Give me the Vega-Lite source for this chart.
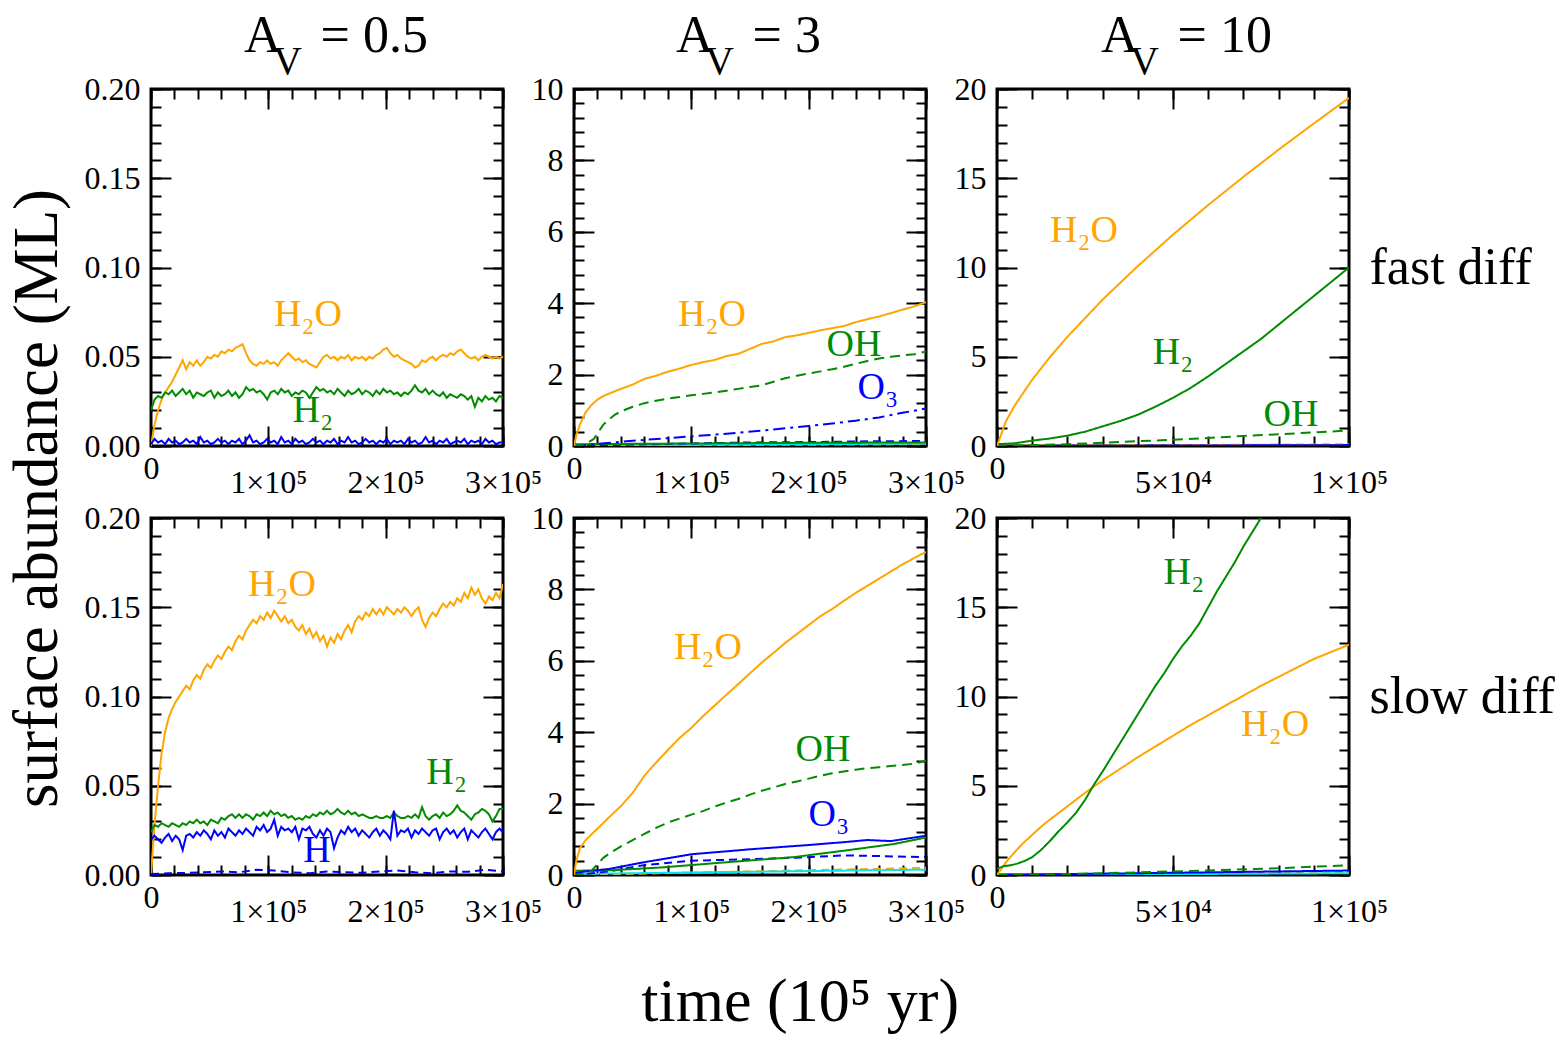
{
"$schema": "https://vega.github.io/schema/vega-lite/v6.json",
"padding": {"left": 6, "top": 8, "right": 10, "bottom": 10},
"config": {
  "font": "Liberation Serif",
  "view": {"stroke": "black", "strokeWidth": 3},
  "axis": {"grid": false, "domain": false, "labelFont": "Liberation Serif", "labelFontSize": 32, "labelColor": "black", "tickColor": "black", "tickWidth": 2, "labelFlush": false, "labelOverlap": false, "labelBound": false, "titleFont": "Liberation Serif", "titleColor": "black", "titleFontWeight": "normal"},
  "title": {"font": "Liberation Serif", "fontWeight": "normal", "color": "black", "subtitleFont": "Liberation Serif", "subtitleColor": "black"},
  "text": {"font": "Liberation Serif"}
},
"datasets": {
"tl": [
{"t":0,"v":0,"s":"H2O"},{"t":3000,"v":0.012,"s":"H2O"},{"t":6000,"v":0.02,"s":"H2O"},{"t":9000,"v":0.026,"s":"H2O"},{"t":12000,"v":0.03,"s":"H2O"},{"t":15000,"v":0.033,"s":"H2O"},{"t":18000,"v":0.036,"s":"H2O"},{"t":21000,"v":0.04,"s":"H2O"},{"t":24000,"v":0.044,"s":"H2O"},{"t":27000,"v":0.048,"s":"H2O"},{"t":30000,"v":0.043,"s":"H2O"},{"t":33000,"v":0.047,"s":"H2O"},{"t":36000,"v":0.045,"s":"H2O"},{"t":39000,"v":0.048,"s":"H2O"},{"t":42000,"v":0.045,"s":"H2O"},{"t":45000,"v":0.047,"s":"H2O"},{"t":48000,"v":0.05,"s":"H2O"},{"t":51000,"v":0.049,"s":"H2O"},{"t":54000,"v":0.051,"s":"H2O"},{"t":57000,"v":0.05,"s":"H2O"},{"t":60000,"v":0.053,"s":"H2O"},{"t":63000,"v":0.052,"s":"H2O"},{"t":66000,"v":0.054,"s":"H2O"},{"t":69000,"v":0.053,"s":"H2O"},{"t":72000,"v":0.055,"s":"H2O"},{"t":75000,"v":0.056,"s":"H2O"},{"t":78000,"v":0.057,"s":"H2O"},{"t":81000,"v":0.052,"s":"H2O"},{"t":84000,"v":0.048,"s":"H2O"},{"t":87000,"v":0.046,"s":"H2O"},{"t":90000,"v":0.045,"s":"H2O"},{"t":93000,"v":0.047,"s":"H2O"},{"t":96000,"v":0.046,"s":"H2O"},{"t":99000,"v":0.048,"s":"H2O"},{"t":102000,"v":0.046,"s":"H2O"},{"t":105000,"v":0.047,"s":"H2O"},{"t":108000,"v":0.045,"s":"H2O"},{"t":111000,"v":0.048,"s":"H2O"},{"t":114000,"v":0.05,"s":"H2O"},{"t":117000,"v":0.052,"s":"H2O"},{"t":120000,"v":0.05,"s":"H2O"},{"t":123000,"v":0.048,"s":"H2O"},{"t":126000,"v":0.049,"s":"H2O"},{"t":129000,"v":0.047,"s":"H2O"},{"t":132000,"v":0.048,"s":"H2O"},{"t":135000,"v":0.046,"s":"H2O"},{"t":138000,"v":0.045,"s":"H2O"},{"t":141000,"v":0.044,"s":"H2O"},{"t":144000,"v":0.047,"s":"H2O"},{"t":147000,"v":0.05,"s":"H2O"},{"t":150000,"v":0.051,"s":"H2O"},{"t":153000,"v":0.049,"s":"H2O"},{"t":156000,"v":0.05,"s":"H2O"},{"t":159000,"v":0.048,"s":"H2O"},{"t":162000,"v":0.05,"s":"H2O"},{"t":165000,"v":0.049,"s":"H2O"},{"t":168000,"v":0.051,"s":"H2O"},{"t":171000,"v":0.048,"s":"H2O"},{"t":174000,"v":0.05,"s":"H2O"},{"t":177000,"v":0.049,"s":"H2O"},{"t":180000,"v":0.05,"s":"H2O"},{"t":183000,"v":0.048,"s":"H2O"},{"t":186000,"v":0.05,"s":"H2O"},{"t":189000,"v":0.049,"s":"H2O"},{"t":192000,"v":0.051,"s":"H2O"},{"t":195000,"v":0.052,"s":"H2O"},{"t":198000,"v":0.054,"s":"H2O"},{"t":201000,"v":0.055,"s":"H2O"},{"t":204000,"v":0.052,"s":"H2O"},{"t":207000,"v":0.05,"s":"H2O"},{"t":210000,"v":0.051,"s":"H2O"},{"t":213000,"v":0.049,"s":"H2O"},{"t":216000,"v":0.048,"s":"H2O"},{"t":219000,"v":0.047,"s":"H2O"},{"t":222000,"v":0.046,"s":"H2O"},{"t":225000,"v":0.044,"s":"H2O"},{"t":228000,"v":0.045,"s":"H2O"},{"t":231000,"v":0.048,"s":"H2O"},{"t":234000,"v":0.047,"s":"H2O"},{"t":237000,"v":0.049,"s":"H2O"},{"t":240000,"v":0.05,"s":"H2O"},{"t":243000,"v":0.048,"s":"H2O"},{"t":246000,"v":0.05,"s":"H2O"},{"t":249000,"v":0.051,"s":"H2O"},{"t":252000,"v":0.05,"s":"H2O"},{"t":255000,"v":0.052,"s":"H2O"},{"t":258000,"v":0.051,"s":"H2O"},{"t":261000,"v":0.053,"s":"H2O"},{"t":264000,"v":0.054,"s":"H2O"},{"t":267000,"v":0.052,"s":"H2O"},{"t":270000,"v":0.05,"s":"H2O"},{"t":273000,"v":0.049,"s":"H2O"},{"t":276000,"v":0.05,"s":"H2O"},{"t":279000,"v":0.048,"s":"H2O"},{"t":282000,"v":0.05,"s":"H2O"},{"t":285000,"v":0.051,"s":"H2O"},{"t":288000,"v":0.05,"s":"H2O"},{"t":291000,"v":0.049,"s":"H2O"},{"t":294000,"v":0.05,"s":"H2O"},{"t":297000,"v":0.049,"s":"H2O"},{"t":300000,"v":0.05,"s":"H2O"},
{"t":0,"v":0.02,"s":"H2"},{"t":3000,"v":0.026,"s":"H2"},{"t":6000,"v":0.028,"s":"H2"},{"t":9000,"v":0.027,"s":"H2"},{"t":12000,"v":0.03,"s":"H2"},{"t":15000,"v":0.029,"s":"H2"},{"t":18000,"v":0.031,"s":"H2"},{"t":21000,"v":0.028,"s":"H2"},{"t":24000,"v":0.03,"s":"H2"},{"t":27000,"v":0.032,"s":"H2"},{"t":30000,"v":0.029,"s":"H2"},{"t":33000,"v":0.031,"s":"H2"},{"t":36000,"v":0.027,"s":"H2"},{"t":39000,"v":0.03,"s":"H2"},{"t":42000,"v":0.029,"s":"H2"},{"t":45000,"v":0.028,"s":"H2"},{"t":48000,"v":0.03,"s":"H2"},{"t":51000,"v":0.031,"s":"H2"},{"t":54000,"v":0.027,"s":"H2"},{"t":57000,"v":0.03,"s":"H2"},{"t":60000,"v":0.028,"s":"H2"},{"t":63000,"v":0.029,"s":"H2"},{"t":66000,"v":0.031,"s":"H2"},{"t":69000,"v":0.028,"s":"H2"},{"t":72000,"v":0.03,"s":"H2"},{"t":75000,"v":0.027,"s":"H2"},{"t":78000,"v":0.029,"s":"H2"},{"t":81000,"v":0.033,"s":"H2"},{"t":84000,"v":0.031,"s":"H2"},{"t":87000,"v":0.032,"s":"H2"},{"t":90000,"v":0.03,"s":"H2"},{"t":93000,"v":0.031,"s":"H2"},{"t":96000,"v":0.029,"s":"H2"},{"t":99000,"v":0.026,"s":"H2"},{"t":102000,"v":0.03,"s":"H2"},{"t":105000,"v":0.031,"s":"H2"},{"t":108000,"v":0.029,"s":"H2"},{"t":111000,"v":0.032,"s":"H2"},{"t":114000,"v":0.03,"s":"H2"},{"t":117000,"v":0.031,"s":"H2"},{"t":120000,"v":0.028,"s":"H2"},{"t":123000,"v":0.03,"s":"H2"},{"t":126000,"v":0.029,"s":"H2"},{"t":129000,"v":0.031,"s":"H2"},{"t":132000,"v":0.03,"s":"H2"},{"t":135000,"v":0.027,"s":"H2"},{"t":138000,"v":0.03,"s":"H2"},{"t":141000,"v":0.033,"s":"H2"},{"t":144000,"v":0.031,"s":"H2"},{"t":147000,"v":0.032,"s":"H2"},{"t":150000,"v":0.03,"s":"H2"},{"t":153000,"v":0.031,"s":"H2"},{"t":156000,"v":0.029,"s":"H2"},{"t":159000,"v":0.032,"s":"H2"},{"t":162000,"v":0.03,"s":"H2"},{"t":165000,"v":0.028,"s":"H2"},{"t":168000,"v":0.031,"s":"H2"},{"t":171000,"v":0.029,"s":"H2"},{"t":174000,"v":0.03,"s":"H2"},{"t":177000,"v":0.032,"s":"H2"},{"t":180000,"v":0.029,"s":"H2"},{"t":183000,"v":0.031,"s":"H2"},{"t":186000,"v":0.03,"s":"H2"},{"t":189000,"v":0.028,"s":"H2"},{"t":192000,"v":0.031,"s":"H2"},{"t":195000,"v":0.029,"s":"H2"},{"t":198000,"v":0.032,"s":"H2"},{"t":201000,"v":0.03,"s":"H2"},{"t":204000,"v":0.031,"s":"H2"},{"t":207000,"v":0.029,"s":"H2"},{"t":210000,"v":0.03,"s":"H2"},{"t":213000,"v":0.028,"s":"H2"},{"t":216000,"v":0.03,"s":"H2"},{"t":219000,"v":0.029,"s":"H2"},{"t":222000,"v":0.031,"s":"H2"},{"t":225000,"v":0.034,"s":"H2"},{"t":228000,"v":0.031,"s":"H2"},{"t":231000,"v":0.03,"s":"H2"},{"t":234000,"v":0.032,"s":"H2"},{"t":237000,"v":0.029,"s":"H2"},{"t":240000,"v":0.031,"s":"H2"},{"t":243000,"v":0.029,"s":"H2"},{"t":246000,"v":0.028,"s":"H2"},{"t":249000,"v":0.03,"s":"H2"},{"t":252000,"v":0.027,"s":"H2"},{"t":255000,"v":0.029,"s":"H2"},{"t":258000,"v":0.028,"s":"H2"},{"t":261000,"v":0.027,"s":"H2"},{"t":264000,"v":0.029,"s":"H2"},{"t":267000,"v":0.028,"s":"H2"},{"t":270000,"v":0.026,"s":"H2"},{"t":273000,"v":0.028,"s":"H2"},{"t":276000,"v":0.022,"s":"H2"},{"t":279000,"v":0.027,"s":"H2"},{"t":282000,"v":0.025,"s":"H2"},{"t":285000,"v":0.028,"s":"H2"},{"t":288000,"v":0.026,"s":"H2"},{"t":291000,"v":0.027,"s":"H2"},{"t":294000,"v":0.025,"s":"H2"},{"t":297000,"v":0.028,"s":"H2"},{"t":300000,"v":0.027,"s":"H2"},
{"t":0,"v":0.001,"s":"H"},{"t":3000,"v":0.004,"s":"H"},{"t":6000,"v":0.002,"s":"H"},{"t":9000,"v":0.003,"s":"H"},{"t":12000,"v":0.001,"s":"H"},{"t":15000,"v":0.004,"s":"H"},{"t":18000,"v":0.002,"s":"H"},{"t":21000,"v":0.003,"s":"H"},{"t":24000,"v":0.001,"s":"H"},{"t":27000,"v":0.002,"s":"H"},{"t":30000,"v":0.004,"s":"H"},{"t":33000,"v":0.002,"s":"H"},{"t":36000,"v":0.003,"s":"H"},{"t":39000,"v":0.001,"s":"H"},{"t":42000,"v":0.005,"s":"H"},{"t":45000,"v":0.002,"s":"H"},{"t":48000,"v":0.003,"s":"H"},{"t":51000,"v":0.001,"s":"H"},{"t":54000,"v":0.002,"s":"H"},{"t":57000,"v":0.004,"s":"H"},{"t":60000,"v":0.002,"s":"H"},{"t":63000,"v":0.003,"s":"H"},{"t":66000,"v":0.001,"s":"H"},{"t":69000,"v":0.003,"s":"H"},{"t":72000,"v":0.002,"s":"H"},{"t":75000,"v":0.004,"s":"H"},{"t":78000,"v":0.001,"s":"H"},{"t":81000,"v":0.003,"s":"H"},{"t":84000,"v":0.006,"s":"H"},{"t":87000,"v":0.002,"s":"H"},{"t":90000,"v":0.003,"s":"H"},{"t":93000,"v":0.001,"s":"H"},{"t":96000,"v":0.002,"s":"H"},{"t":99000,"v":0.004,"s":"H"},{"t":102000,"v":0.002,"s":"H"},{"t":105000,"v":0.003,"s":"H"},{"t":108000,"v":0.001,"s":"H"},{"t":111000,"v":0.005,"s":"H"},{"t":114000,"v":0.002,"s":"H"},{"t":117000,"v":0.003,"s":"H"},{"t":120000,"v":0.001,"s":"H"},{"t":123000,"v":0.004,"s":"H"},{"t":126000,"v":0.002,"s":"H"},{"t":129000,"v":0.003,"s":"H"},{"t":132000,"v":0.001,"s":"H"},{"t":135000,"v":0.002,"s":"H"},{"t":138000,"v":0.004,"s":"H"},{"t":141000,"v":0.002,"s":"H"},{"t":144000,"v":0.003,"s":"H"},{"t":147000,"v":0.001,"s":"H"},{"t":150000,"v":0.003,"s":"H"},{"t":153000,"v":0.002,"s":"H"},{"t":156000,"v":0.004,"s":"H"},{"t":159000,"v":0.001,"s":"H"},{"t":162000,"v":0.003,"s":"H"},{"t":165000,"v":0.002,"s":"H"},{"t":168000,"v":0.005,"s":"H"},{"t":171000,"v":0.002,"s":"H"},{"t":174000,"v":0.003,"s":"H"},{"t":177000,"v":0.001,"s":"H"},{"t":180000,"v":0.002,"s":"H"},{"t":183000,"v":0.004,"s":"H"},{"t":186000,"v":0.002,"s":"H"},{"t":189000,"v":0.003,"s":"H"},{"t":192000,"v":0.001,"s":"H"},{"t":195000,"v":0.003,"s":"H"},{"t":198000,"v":0.002,"s":"H"},{"t":201000,"v":0.004,"s":"H"},{"t":204000,"v":0.001,"s":"H"},{"t":207000,"v":0.003,"s":"H"},{"t":210000,"v":0.002,"s":"H"},{"t":213000,"v":0.003,"s":"H"},{"t":216000,"v":0.001,"s":"H"},{"t":219000,"v":0.004,"s":"H"},{"t":222000,"v":0.002,"s":"H"},{"t":225000,"v":0.003,"s":"H"},{"t":228000,"v":0.001,"s":"H"},{"t":231000,"v":0.002,"s":"H"},{"t":234000,"v":0.005,"s":"H"},{"t":237000,"v":0.002,"s":"H"},{"t":240000,"v":0.003,"s":"H"},{"t":243000,"v":0.001,"s":"H"},{"t":246000,"v":0.003,"s":"H"},{"t":249000,"v":0.002,"s":"H"},{"t":252000,"v":0.004,"s":"H"},{"t":255000,"v":0.001,"s":"H"},{"t":258000,"v":0.002,"s":"H"},{"t":261000,"v":0.003,"s":"H"},{"t":264000,"v":0.002,"s":"H"},{"t":267000,"v":0.004,"s":"H"},{"t":270000,"v":0.001,"s":"H"},{"t":273000,"v":0.003,"s":"H"},{"t":276000,"v":0.002,"s":"H"},{"t":279000,"v":0.003,"s":"H"},{"t":282000,"v":0.001,"s":"H"},{"t":285000,"v":0.004,"s":"H"},{"t":288000,"v":0.002,"s":"H"},{"t":291000,"v":0.003,"s":"H"},{"t":294000,"v":0.001,"s":"H"},{"t":297000,"v":0.002,"s":"H"},{"t":300000,"v":0.002,"s":"H"}
],
"bl": [
{"t":0,"v":0,"s":"H2O"},{"t":3000,"v":0.028,"s":"H2O"},{"t":6000,"v":0.05,"s":"H2O"},{"t":9000,"v":0.068,"s":"H2O"},{"t":12000,"v":0.08,"s":"H2O"},{"t":15000,"v":0.088,"s":"H2O"},{"t":18000,"v":0.093,"s":"H2O"},{"t":21000,"v":0.097,"s":"H2O"},{"t":24000,"v":0.1,"s":"H2O"},{"t":27000,"v":0.103,"s":"H2O"},{"t":30000,"v":0.106,"s":"H2O"},{"t":33000,"v":0.104,"s":"H2O"},{"t":36000,"v":0.109,"s":"H2O"},{"t":39000,"v":0.112,"s":"H2O"},{"t":42000,"v":0.11,"s":"H2O"},{"t":45000,"v":0.115,"s":"H2O"},{"t":48000,"v":0.118,"s":"H2O"},{"t":51000,"v":0.116,"s":"H2O"},{"t":54000,"v":0.12,"s":"H2O"},{"t":57000,"v":0.123,"s":"H2O"},{"t":60000,"v":0.121,"s":"H2O"},{"t":63000,"v":0.125,"s":"H2O"},{"t":66000,"v":0.128,"s":"H2O"},{"t":69000,"v":0.126,"s":"H2O"},{"t":72000,"v":0.131,"s":"H2O"},{"t":75000,"v":0.134,"s":"H2O"},{"t":78000,"v":0.132,"s":"H2O"},{"t":81000,"v":0.137,"s":"H2O"},{"t":84000,"v":0.14,"s":"H2O"},{"t":87000,"v":0.143,"s":"H2O"},{"t":90000,"v":0.141,"s":"H2O"},{"t":93000,"v":0.145,"s":"H2O"},{"t":96000,"v":0.143,"s":"H2O"},{"t":99000,"v":0.147,"s":"H2O"},{"t":102000,"v":0.144,"s":"H2O"},{"t":105000,"v":0.148,"s":"H2O"},{"t":108000,"v":0.145,"s":"H2O"},{"t":111000,"v":0.142,"s":"H2O"},{"t":114000,"v":0.145,"s":"H2O"},{"t":117000,"v":0.141,"s":"H2O"},{"t":120000,"v":0.143,"s":"H2O"},{"t":123000,"v":0.139,"s":"H2O"},{"t":126000,"v":0.137,"s":"H2O"},{"t":129000,"v":0.14,"s":"H2O"},{"t":132000,"v":0.135,"s":"H2O"},{"t":135000,"v":0.138,"s":"H2O"},{"t":138000,"v":0.133,"s":"H2O"},{"t":141000,"v":0.136,"s":"H2O"},{"t":144000,"v":0.131,"s":"H2O"},{"t":147000,"v":0.134,"s":"H2O"},{"t":150000,"v":0.128,"s":"H2O"},{"t":153000,"v":0.133,"s":"H2O"},{"t":156000,"v":0.13,"s":"H2O"},{"t":159000,"v":0.135,"s":"H2O"},{"t":162000,"v":0.132,"s":"H2O"},{"t":165000,"v":0.137,"s":"H2O"},{"t":168000,"v":0.14,"s":"H2O"},{"t":171000,"v":0.136,"s":"H2O"},{"t":174000,"v":0.142,"s":"H2O"},{"t":177000,"v":0.145,"s":"H2O"},{"t":180000,"v":0.143,"s":"H2O"},{"t":183000,"v":0.147,"s":"H2O"},{"t":186000,"v":0.145,"s":"H2O"},{"t":189000,"v":0.149,"s":"H2O"},{"t":192000,"v":0.146,"s":"H2O"},{"t":195000,"v":0.149,"s":"H2O"},{"t":198000,"v":0.146,"s":"H2O"},{"t":201000,"v":0.15,"s":"H2O"},{"t":204000,"v":0.148,"s":"H2O"},{"t":207000,"v":0.146,"s":"H2O"},{"t":210000,"v":0.149,"s":"H2O"},{"t":213000,"v":0.147,"s":"H2O"},{"t":216000,"v":0.15,"s":"H2O"},{"t":219000,"v":0.148,"s":"H2O"},{"t":222000,"v":0.145,"s":"H2O"},{"t":225000,"v":0.148,"s":"H2O"},{"t":228000,"v":0.15,"s":"H2O"},{"t":231000,"v":0.143,"s":"H2O"},{"t":234000,"v":0.139,"s":"H2O"},{"t":237000,"v":0.144,"s":"H2O"},{"t":240000,"v":0.147,"s":"H2O"},{"t":243000,"v":0.145,"s":"H2O"},{"t":246000,"v":0.149,"s":"H2O"},{"t":249000,"v":0.152,"s":"H2O"},{"t":252000,"v":0.15,"s":"H2O"},{"t":255000,"v":0.153,"s":"H2O"},{"t":258000,"v":0.151,"s":"H2O"},{"t":261000,"v":0.155,"s":"H2O"},{"t":264000,"v":0.153,"s":"H2O"},{"t":267000,"v":0.158,"s":"H2O"},{"t":270000,"v":0.155,"s":"H2O"},{"t":273000,"v":0.161,"s":"H2O"},{"t":276000,"v":0.157,"s":"H2O"},{"t":279000,"v":0.16,"s":"H2O"},{"t":282000,"v":0.155,"s":"H2O"},{"t":285000,"v":0.152,"s":"H2O"},{"t":288000,"v":0.156,"s":"H2O"},{"t":291000,"v":0.154,"s":"H2O"},{"t":294000,"v":0.158,"s":"H2O"},{"t":297000,"v":0.155,"s":"H2O"},{"t":300000,"v":0.163,"s":"H2O"},
{"t":0,"v":0.024,"s":"H2"},{"t":3000,"v":0.028,"s":"H2"},{"t":6000,"v":0.027,"s":"H2"},{"t":9000,"v":0.029,"s":"H2"},{"t":12000,"v":0.028,"s":"H2"},{"t":15000,"v":0.027,"s":"H2"},{"t":18000,"v":0.029,"s":"H2"},{"t":21000,"v":0.028,"s":"H2"},{"t":24000,"v":0.027,"s":"H2"},{"t":27000,"v":0.029,"s":"H2"},{"t":30000,"v":0.028,"s":"H2"},{"t":33000,"v":0.03,"s":"H2"},{"t":36000,"v":0.029,"s":"H2"},{"t":39000,"v":0.031,"s":"H2"},{"t":42000,"v":0.029,"s":"H2"},{"t":45000,"v":0.03,"s":"H2"},{"t":48000,"v":0.028,"s":"H2"},{"t":51000,"v":0.031,"s":"H2"},{"t":54000,"v":0.03,"s":"H2"},{"t":57000,"v":0.029,"s":"H2"},{"t":60000,"v":0.032,"s":"H2"},{"t":63000,"v":0.031,"s":"H2"},{"t":66000,"v":0.033,"s":"H2"},{"t":69000,"v":0.034,"s":"H2"},{"t":72000,"v":0.032,"s":"H2"},{"t":75000,"v":0.034,"s":"H2"},{"t":78000,"v":0.032,"s":"H2"},{"t":81000,"v":0.034,"s":"H2"},{"t":84000,"v":0.033,"s":"H2"},{"t":87000,"v":0.031,"s":"H2"},{"t":90000,"v":0.034,"s":"H2"},{"t":93000,"v":0.033,"s":"H2"},{"t":96000,"v":0.035,"s":"H2"},{"t":99000,"v":0.033,"s":"H2"},{"t":102000,"v":0.036,"s":"H2"},{"t":105000,"v":0.034,"s":"H2"},{"t":108000,"v":0.035,"s":"H2"},{"t":111000,"v":0.033,"s":"H2"},{"t":114000,"v":0.034,"s":"H2"},{"t":117000,"v":0.032,"s":"H2"},{"t":120000,"v":0.033,"s":"H2"},{"t":123000,"v":0.031,"s":"H2"},{"t":126000,"v":0.032,"s":"H2"},{"t":129000,"v":0.031,"s":"H2"},{"t":132000,"v":0.033,"s":"H2"},{"t":135000,"v":0.032,"s":"H2"},{"t":138000,"v":0.034,"s":"H2"},{"t":141000,"v":0.033,"s":"H2"},{"t":144000,"v":0.035,"s":"H2"},{"t":147000,"v":0.034,"s":"H2"},{"t":150000,"v":0.036,"s":"H2"},{"t":153000,"v":0.034,"s":"H2"},{"t":156000,"v":0.035,"s":"H2"},{"t":159000,"v":0.037,"s":"H2"},{"t":162000,"v":0.035,"s":"H2"},{"t":165000,"v":0.034,"s":"H2"},{"t":168000,"v":0.036,"s":"H2"},{"t":171000,"v":0.034,"s":"H2"},{"t":174000,"v":0.035,"s":"H2"},{"t":177000,"v":0.033,"s":"H2"},{"t":180000,"v":0.034,"s":"H2"},{"t":183000,"v":0.033,"s":"H2"},{"t":186000,"v":0.032,"s":"H2"},{"t":189000,"v":0.032,"s":"H2"},{"t":192000,"v":0.033,"s":"H2"},{"t":195000,"v":0.032,"s":"H2"},{"t":198000,"v":0.032,"s":"H2"},{"t":201000,"v":0.033,"s":"H2"},{"t":204000,"v":0.032,"s":"H2"},{"t":207000,"v":0.035,"s":"H2"},{"t":210000,"v":0.033,"s":"H2"},{"t":213000,"v":0.032,"s":"H2"},{"t":216000,"v":0.032,"s":"H2"},{"t":219000,"v":0.033,"s":"H2"},{"t":222000,"v":0.032,"s":"H2"},{"t":225000,"v":0.034,"s":"H2"},{"t":228000,"v":0.032,"s":"H2"},{"t":231000,"v":0.038,"s":"H2"},{"t":234000,"v":0.033,"s":"H2"},{"t":237000,"v":0.031,"s":"H2"},{"t":240000,"v":0.033,"s":"H2"},{"t":243000,"v":0.034,"s":"H2"},{"t":246000,"v":0.032,"s":"H2"},{"t":249000,"v":0.035,"s":"H2"},{"t":252000,"v":0.033,"s":"H2"},{"t":255000,"v":0.034,"s":"H2"},{"t":258000,"v":0.036,"s":"H2"},{"t":261000,"v":0.039,"s":"H2"},{"t":264000,"v":0.036,"s":"H2"},{"t":267000,"v":0.035,"s":"H2"},{"t":270000,"v":0.033,"s":"H2"},{"t":273000,"v":0.031,"s":"H2"},{"t":276000,"v":0.034,"s":"H2"},{"t":279000,"v":0.035,"s":"H2"},{"t":282000,"v":0.037,"s":"H2"},{"t":285000,"v":0.036,"s":"H2"},{"t":288000,"v":0.034,"s":"H2"},{"t":291000,"v":0.03,"s":"H2"},{"t":294000,"v":0.033,"s":"H2"},{"t":297000,"v":0.037,"s":"H2"},{"t":300000,"v":0.037,"s":"H2"},
{"t":0,"v":0.02,"s":"H"},{"t":3000,"v":0.022,"s":"H"},{"t":6000,"v":0.02,"s":"H"},{"t":9000,"v":0.018,"s":"H"},{"t":12000,"v":0.021,"s":"H"},{"t":15000,"v":0.023,"s":"H"},{"t":18000,"v":0.019,"s":"H"},{"t":21000,"v":0.022,"s":"H"},{"t":24000,"v":0.02,"s":"H"},{"t":27000,"v":0.014,"s":"H"},{"t":30000,"v":0.022,"s":"H"},{"t":33000,"v":0.023,"s":"H"},{"t":36000,"v":0.021,"s":"H"},{"t":39000,"v":0.024,"s":"H"},{"t":42000,"v":0.022,"s":"H"},{"t":45000,"v":0.025,"s":"H"},{"t":48000,"v":0.023,"s":"H"},{"t":51000,"v":0.02,"s":"H"},{"t":54000,"v":0.025,"s":"H"},{"t":57000,"v":0.022,"s":"H"},{"t":60000,"v":0.024,"s":"H"},{"t":63000,"v":0.021,"s":"H"},{"t":66000,"v":0.026,"s":"H"},{"t":69000,"v":0.024,"s":"H"},{"t":72000,"v":0.022,"s":"H"},{"t":75000,"v":0.025,"s":"H"},{"t":78000,"v":0.023,"s":"H"},{"t":81000,"v":0.026,"s":"H"},{"t":84000,"v":0.024,"s":"H"},{"t":87000,"v":0.022,"s":"H"},{"t":90000,"v":0.027,"s":"H"},{"t":93000,"v":0.025,"s":"H"},{"t":96000,"v":0.028,"s":"H"},{"t":99000,"v":0.024,"s":"H"},{"t":102000,"v":0.026,"s":"H"},{"t":105000,"v":0.031,"s":"H"},{"t":108000,"v":0.022,"s":"H"},{"t":111000,"v":0.027,"s":"H"},{"t":114000,"v":0.025,"s":"H"},{"t":117000,"v":0.026,"s":"H"},{"t":120000,"v":0.024,"s":"H"},{"t":123000,"v":0.027,"s":"H"},{"t":126000,"v":0.02,"s":"H"},{"t":129000,"v":0.026,"s":"H"},{"t":132000,"v":0.025,"s":"H"},{"t":135000,"v":0.027,"s":"H"},{"t":138000,"v":0.023,"s":"H"},{"t":141000,"v":0.021,"s":"H"},{"t":144000,"v":0.025,"s":"H"},{"t":147000,"v":0.022,"s":"H"},{"t":150000,"v":0.026,"s":"H"},{"t":153000,"v":0.024,"s":"H"},{"t":156000,"v":0.015,"s":"H"},{"t":159000,"v":0.021,"s":"H"},{"t":162000,"v":0.025,"s":"H"},{"t":165000,"v":0.023,"s":"H"},{"t":168000,"v":0.027,"s":"H"},{"t":171000,"v":0.024,"s":"H"},{"t":174000,"v":0.026,"s":"H"},{"t":177000,"v":0.022,"s":"H"},{"t":180000,"v":0.025,"s":"H"},{"t":183000,"v":0.023,"s":"H"},{"t":186000,"v":0.021,"s":"H"},{"t":189000,"v":0.024,"s":"H"},{"t":192000,"v":0.026,"s":"H"},{"t":195000,"v":0.022,"s":"H"},{"t":198000,"v":0.025,"s":"H"},{"t":201000,"v":0.023,"s":"H"},{"t":204000,"v":0.02,"s":"H"},{"t":207000,"v":0.036,"s":"H"},{"t":210000,"v":0.022,"s":"H"},{"t":213000,"v":0.025,"s":"H"},{"t":216000,"v":0.024,"s":"H"},{"t":219000,"v":0.026,"s":"H"},{"t":222000,"v":0.021,"s":"H"},{"t":225000,"v":0.025,"s":"H"},{"t":228000,"v":0.023,"s":"H"},{"t":231000,"v":0.026,"s":"H"},{"t":234000,"v":0.024,"s":"H"},{"t":237000,"v":0.022,"s":"H"},{"t":240000,"v":0.025,"s":"H"},{"t":243000,"v":0.026,"s":"H"},{"t":246000,"v":0.02,"s":"H"},{"t":249000,"v":0.024,"s":"H"},{"t":252000,"v":0.026,"s":"H"},{"t":255000,"v":0.023,"s":"H"},{"t":258000,"v":0.025,"s":"H"},{"t":261000,"v":0.021,"s":"H"},{"t":264000,"v":0.024,"s":"H"},{"t":267000,"v":0.026,"s":"H"},{"t":270000,"v":0.02,"s":"H"},{"t":273000,"v":0.025,"s":"H"},{"t":276000,"v":0.023,"s":"H"},{"t":279000,"v":0.021,"s":"H"},{"t":282000,"v":0.024,"s":"H"},{"t":285000,"v":0.026,"s":"H"},{"t":288000,"v":0.023,"s":"H"},{"t":291000,"v":0.02,"s":"H"},{"t":294000,"v":0.024,"s":"H"},{"t":297000,"v":0.026,"s":"H"},{"t":300000,"v":0.024,"s":"H"},
{"t":0,"v":0.0005,"s":"O2"},{"t":15000,"v":0.001,"s":"O2"},{"t":30000,"v":0.0012,"s":"O2"},{"t":45000,"v":0.0015,"s":"O2"},{"t":60000,"v":0.002,"s":"O2"},{"t":75000,"v":0.0015,"s":"O2"},{"t":90000,"v":0.003,"s":"O2"},{"t":105000,"v":0.0025,"s":"O2"},{"t":120000,"v":0.0015,"s":"O2"},{"t":135000,"v":0.001,"s":"O2"},{"t":150000,"v":0.002,"s":"O2"},{"t":165000,"v":0.0015,"s":"O2"},{"t":180000,"v":0.0012,"s":"O2"},{"t":195000,"v":0.002,"s":"O2"},{"t":210000,"v":0.0025,"s":"O2"},{"t":225000,"v":0.0015,"s":"O2"},{"t":240000,"v":0.001,"s":"O2"},{"t":255000,"v":0.002,"s":"O2"},{"t":270000,"v":0.0018,"s":"O2"},{"t":285000,"v":0.003,"s":"O2"},{"t":300000,"v":0.002,"s":"O2"}
],
"tm": [
{"t":0,"v":0,"s":"HO2"},{"t":150000,"v":0.03,"s":"HO2"},{"t":300000,"v":0.05,"s":"HO2"},
{"t":0,"v":0,"s":"O"},{"t":100000,"v":0.03,"s":"O"},{"t":200000,"v":0.05,"s":"O"},{"t":300000,"v":0.07,"s":"O"},
{"t":0,"v":0,"s":"O2"},{"t":50000,"v":0.04,"s":"O2"},{"t":100000,"v":0.07,"s":"O2"},{"t":150000,"v":0.1,"s":"O2"},{"t":200000,"v":0.11,"s":"O2"},{"t":250000,"v":0.13,"s":"O2"},{"t":300000,"v":0.14,"s":"O2"},
{"t":0,"v":0.05,"s":"H2"},{"t":100000,"v":0.07,"s":"H2"},{"t":200000,"v":0.09,"s":"H2"},{"t":300000,"v":0.1,"s":"H2"},
{"t":0,"v":0,"s":"O3"},{"t":20000,"v":0.06,"s":"O3"},{"t":40000,"v":0.12,"s":"O3"},{"t":60000,"v":0.17,"s":"O3"},{"t":80000,"v":0.22,"s":"O3"},{"t":100000,"v":0.27,"s":"O3"},{"t":120000,"v":0.32,"s":"O3"},{"t":140000,"v":0.37,"s":"O3"},{"t":160000,"v":0.43,"s":"O3"},{"t":180000,"v":0.5,"s":"O3"},{"t":200000,"v":0.56,"s":"O3"},{"t":220000,"v":0.63,"s":"O3"},{"t":240000,"v":0.71,"s":"O3"},{"t":260000,"v":0.8,"s":"O3"},{"t":280000,"v":0.93,"s":"O3"},{"t":300000,"v":1.05,"s":"O3"},
{"t":0,"v":0,"s":"OH"},{"t":10000,"v":0.05,"s":"OH"},{"t":17000,"v":0.2,"s":"OH"},{"t":20000,"v":0.35,"s":"OH"},{"t":25000,"v":0.6,"s":"OH"},{"t":30000,"v":0.75,"s":"OH"},{"t":35000,"v":0.88,"s":"OH"},{"t":40000,"v":0.97,"s":"OH"},{"t":50000,"v":1.1,"s":"OH"},{"t":60000,"v":1.2,"s":"OH"},{"t":70000,"v":1.27,"s":"OH"},{"t":80000,"v":1.33,"s":"OH"},{"t":90000,"v":1.37,"s":"OH"},{"t":100000,"v":1.42,"s":"OH"},{"t":110000,"v":1.46,"s":"OH"},{"t":120000,"v":1.5,"s":"OH"},{"t":130000,"v":1.55,"s":"OH"},{"t":140000,"v":1.6,"s":"OH"},{"t":150000,"v":1.65,"s":"OH"},{"t":160000,"v":1.7,"s":"OH"},{"t":170000,"v":1.8,"s":"OH"},{"t":180000,"v":1.9,"s":"OH"},{"t":190000,"v":1.97,"s":"OH"},{"t":200000,"v":2.03,"s":"OH"},{"t":210000,"v":2.09,"s":"OH"},{"t":220000,"v":2.15,"s":"OH"},{"t":230000,"v":2.22,"s":"OH"},{"t":240000,"v":2.3,"s":"OH"},{"t":250000,"v":2.38,"s":"OH"},{"t":260000,"v":2.45,"s":"OH"},{"t":270000,"v":2.5,"s":"OH"},{"t":280000,"v":2.54,"s":"OH"},{"t":290000,"v":2.57,"s":"OH"},{"t":300000,"v":2.65,"s":"OH"},
{"t":0,"v":0,"s":"H2O"},{"t":2000,"v":0.3,"s":"H2O"},{"t":5000,"v":0.6,"s":"H2O"},{"t":10000,"v":0.95,"s":"H2O"},{"t":15000,"v":1.15,"s":"H2O"},{"t":20000,"v":1.3,"s":"H2O"},{"t":25000,"v":1.4,"s":"H2O"},{"t":30000,"v":1.47,"s":"H2O"},{"t":40000,"v":1.6,"s":"H2O"},{"t":50000,"v":1.72,"s":"H2O"},{"t":60000,"v":1.88,"s":"H2O"},{"t":70000,"v":1.97,"s":"H2O"},{"t":80000,"v":2.08,"s":"H2O"},{"t":90000,"v":2.17,"s":"H2O"},{"t":100000,"v":2.27,"s":"H2O"},{"t":110000,"v":2.35,"s":"H2O"},{"t":120000,"v":2.41,"s":"H2O"},{"t":130000,"v":2.52,"s":"H2O"},{"t":140000,"v":2.58,"s":"H2O"},{"t":150000,"v":2.72,"s":"H2O"},{"t":160000,"v":2.86,"s":"H2O"},{"t":170000,"v":2.93,"s":"H2O"},{"t":180000,"v":3.05,"s":"H2O"},{"t":190000,"v":3.1,"s":"H2O"},{"t":200000,"v":3.17,"s":"H2O"},{"t":210000,"v":3.24,"s":"H2O"},{"t":220000,"v":3.3,"s":"H2O"},{"t":230000,"v":3.36,"s":"H2O"},{"t":240000,"v":3.47,"s":"H2O"},{"t":250000,"v":3.55,"s":"H2O"},{"t":260000,"v":3.63,"s":"H2O"},{"t":270000,"v":3.72,"s":"H2O"},{"t":280000,"v":3.82,"s":"H2O"},{"t":290000,"v":3.91,"s":"H2O"},{"t":300000,"v":4.03,"s":"H2O"}
],
"tr": [
{"t":0,"v":0,"s":"HO2"},{"t":100000,"v":0.1,"s":"HO2"},
{"t":0,"v":0,"s":"O2"},{"t":100000,"v":0.05,"s":"O2"},
{"t":0,"v":0,"s":"OH"},{"t":10000,"v":0.05,"s":"OH"},{"t":20000,"v":0.1,"s":"OH"},{"t":30000,"v":0.18,"s":"OH"},{"t":40000,"v":0.27,"s":"OH"},{"t":50000,"v":0.35,"s":"OH"},{"t":60000,"v":0.45,"s":"OH"},{"t":70000,"v":0.56,"s":"OH"},{"t":80000,"v":0.66,"s":"OH"},{"t":90000,"v":0.76,"s":"OH"},{"t":100000,"v":0.87,"s":"OH"},
{"t":0,"v":0.1,"s":"H2"},{"t":5000,"v":0.15,"s":"H2"},{"t":10000,"v":0.3,"s":"H2"},{"t":15000,"v":0.42,"s":"H2"},{"t":20000,"v":0.58,"s":"H2"},{"t":25000,"v":0.8,"s":"H2"},{"t":30000,"v":1.1,"s":"H2"},{"t":35000,"v":1.4,"s":"H2"},{"t":40000,"v":1.75,"s":"H2"},{"t":45000,"v":2.2,"s":"H2"},{"t":50000,"v":2.7,"s":"H2"},{"t":55000,"v":3.25,"s":"H2"},{"t":60000,"v":3.9,"s":"H2"},{"t":65000,"v":4.6,"s":"H2"},{"t":70000,"v":5.3,"s":"H2"},{"t":75000,"v":6.0,"s":"H2"},{"t":80000,"v":6.8,"s":"H2"},{"t":85000,"v":7.6,"s":"H2"},{"t":90000,"v":8.4,"s":"H2"},{"t":95000,"v":9.2,"s":"H2"},{"t":100000,"v":10.0,"s":"H2"},
{"t":0,"v":0,"s":"H2O"},{"t":2500,"v":1.37,"s":"H2O"},{"t":5000,"v":2.26,"s":"H2O"},{"t":10000,"v":3.71,"s":"H2O"},{"t":15000,"v":4.97,"s":"H2O"},{"t":20000,"v":6.12,"s":"H2O"},{"t":30000,"v":8.2,"s":"H2O"},{"t":40000,"v":10.08,"s":"H2O"},{"t":50000,"v":11.84,"s":"H2O"},{"t":60000,"v":13.5,"s":"H2O"},{"t":70000,"v":15.08,"s":"H2O"},{"t":80000,"v":16.6,"s":"H2O"},{"t":90000,"v":18.07,"s":"H2O"},{"t":100000,"v":19.5,"s":"H2O"}
],
"bm": [
{"t":0,"v":0,"s":"HO2"},{"t":150000,"v":0.1,"s":"HO2"},{"t":300000,"v":0.2,"s":"HO2"},
{"t":0,"v":0.03,"s":"O"},{"t":150000,"v":0.09,"s":"O"},{"t":300000,"v":0.15,"s":"O"},
{"t":0,"v":0,"s":"O2"},{"t":30000,"v":0.1,"s":"O2"},{"t":60000,"v":0.28,"s":"O2"},{"t":100000,"v":0.4,"s":"O2"},{"t":150000,"v":0.44,"s":"O2"},{"t":200000,"v":0.5,"s":"O2"},{"t":230000,"v":0.55,"s":"O2"},{"t":260000,"v":0.53,"s":"O2"},{"t":300000,"v":0.5,"s":"O2"},
{"t":0,"v":0.12,"s":"H2"},{"t":30000,"v":0.13,"s":"H2"},{"t":74000,"v":0.21,"s":"H2"},{"t":131000,"v":0.36,"s":"H2"},{"t":187000,"v":0.5,"s":"H2"},{"t":230000,"v":0.68,"s":"H2"},{"t":273000,"v":0.87,"s":"H2"},{"t":300000,"v":1.05,"s":"H2"},
{"t":0,"v":0.05,"s":"O3"},{"t":10000,"v":0.1,"s":"O3"},{"t":30000,"v":0.17,"s":"O3"},{"t":60000,"v":0.36,"s":"O3"},{"t":100000,"v":0.58,"s":"O3"},{"t":150000,"v":0.72,"s":"O3"},{"t":200000,"v":0.84,"s":"O3"},{"t":230000,"v":0.92,"s":"O3"},{"t":250000,"v":0.98,"s":"O3"},{"t":270000,"v":0.95,"s":"O3"},{"t":290000,"v":1.05,"s":"O3"},{"t":300000,"v":1.1,"s":"O3"},
{"t":0,"v":0,"s":"OH"},{"t":10000,"v":0.02,"s":"OH"},{"t":15000,"v":0.12,"s":"OH"},{"t":20000,"v":0.3,"s":"OH"},{"t":25000,"v":0.48,"s":"OH"},{"t":30000,"v":0.6,"s":"OH"},{"t":40000,"v":0.8,"s":"OH"},{"t":50000,"v":0.98,"s":"OH"},{"t":60000,"v":1.15,"s":"OH"},{"t":70000,"v":1.32,"s":"OH"},{"t":80000,"v":1.47,"s":"OH"},{"t":90000,"v":1.58,"s":"OH"},{"t":100000,"v":1.69,"s":"OH"},{"t":110000,"v":1.79,"s":"OH"},{"t":120000,"v":1.92,"s":"OH"},{"t":130000,"v":2.03,"s":"OH"},{"t":140000,"v":2.13,"s":"OH"},{"t":150000,"v":2.25,"s":"OH"},{"t":160000,"v":2.36,"s":"OH"},{"t":170000,"v":2.45,"s":"OH"},{"t":180000,"v":2.55,"s":"OH"},{"t":190000,"v":2.62,"s":"OH"},{"t":200000,"v":2.7,"s":"OH"},{"t":210000,"v":2.78,"s":"OH"},{"t":220000,"v":2.85,"s":"OH"},{"t":230000,"v":2.9,"s":"OH"},{"t":240000,"v":2.95,"s":"OH"},{"t":250000,"v":2.99,"s":"OH"},{"t":260000,"v":3.02,"s":"OH"},{"t":270000,"v":3.05,"s":"OH"},{"t":280000,"v":3.08,"s":"OH"},{"t":290000,"v":3.12,"s":"OH"},{"t":300000,"v":3.2,"s":"OH"},
{"t":0,"v":0,"s":"H2O"},{"t":2000,"v":0.4,"s":"H2O"},{"t":5000,"v":0.75,"s":"H2O"},{"t":10000,"v":0.98,"s":"H2O"},{"t":15000,"v":1.14,"s":"H2O"},{"t":20000,"v":1.3,"s":"H2O"},{"t":30000,"v":1.62,"s":"H2O"},{"t":40000,"v":1.93,"s":"H2O"},{"t":50000,"v":2.3,"s":"H2O"},{"t":60000,"v":2.78,"s":"H2O"},{"t":70000,"v":3.15,"s":"H2O"},{"t":80000,"v":3.5,"s":"H2O"},{"t":90000,"v":3.84,"s":"H2O"},{"t":100000,"v":4.12,"s":"H2O"},{"t":110000,"v":4.45,"s":"H2O"},{"t":120000,"v":4.75,"s":"H2O"},{"t":130000,"v":5.05,"s":"H2O"},{"t":140000,"v":5.35,"s":"H2O"},{"t":150000,"v":5.65,"s":"H2O"},{"t":160000,"v":5.95,"s":"H2O"},{"t":170000,"v":6.22,"s":"H2O"},{"t":180000,"v":6.5,"s":"H2O"},{"t":190000,"v":6.75,"s":"H2O"},{"t":200000,"v":7.0,"s":"H2O"},{"t":210000,"v":7.25,"s":"H2O"},{"t":220000,"v":7.45,"s":"H2O"},{"t":230000,"v":7.68,"s":"H2O"},{"t":240000,"v":7.9,"s":"H2O"},{"t":250000,"v":8.1,"s":"H2O"},{"t":260000,"v":8.3,"s":"H2O"},{"t":270000,"v":8.5,"s":"H2O"},{"t":280000,"v":8.7,"s":"H2O"},{"t":290000,"v":8.88,"s":"H2O"},{"t":300000,"v":9.05,"s":"H2O"}
],
"br": [
{"t":0,"v":0,"s":"HO2"},{"t":100000,"v":0.15,"s":"HO2"},
{"t":0,"v":0,"s":"O"},{"t":100000,"v":0.1,"s":"O"},
{"t":0,"v":0,"s":"O2"},{"t":100000,"v":0.25,"s":"O2"},
{"t":0,"v":0,"s":"OH"},{"t":20000,"v":0.05,"s":"OH"},{"t":40000,"v":0.15,"s":"OH"},{"t":60000,"v":0.25,"s":"OH"},{"t":80000,"v":0.38,"s":"OH"},{"t":100000,"v":0.55,"s":"OH"},
{"t":0,"v":0,"s":"H2O"},{"t":2500,"v":0.7,"s":"H2O"},{"t":5000,"v":1.28,"s":"H2O"},{"t":7500,"v":1.8,"s":"H2O"},{"t":10000,"v":2.25,"s":"H2O"},{"t":12500,"v":2.7,"s":"H2O"},{"t":15000,"v":3.1,"s":"H2O"},{"t":20000,"v":3.85,"s":"H2O"},{"t":25000,"v":4.6,"s":"H2O"},{"t":30000,"v":5.3,"s":"H2O"},{"t":35000,"v":5.95,"s":"H2O"},{"t":40000,"v":6.6,"s":"H2O"},{"t":45000,"v":7.2,"s":"H2O"},{"t":50000,"v":7.8,"s":"H2O"},{"t":55000,"v":8.4,"s":"H2O"},{"t":60000,"v":8.95,"s":"H2O"},{"t":65000,"v":9.5,"s":"H2O"},{"t":70000,"v":10.05,"s":"H2O"},{"t":75000,"v":10.6,"s":"H2O"},{"t":80000,"v":11.1,"s":"H2O"},{"t":85000,"v":11.6,"s":"H2O"},{"t":90000,"v":12.1,"s":"H2O"},{"t":95000,"v":12.5,"s":"H2O"},{"t":100000,"v":12.9,"s":"H2O"},
{"t":0,"v":0.35,"s":"H2"},{"t":2000,"v":0.5,"s":"H2"},{"t":4000,"v":0.55,"s":"H2"},{"t":6000,"v":0.65,"s":"H2"},{"t":8000,"v":0.8,"s":"H2"},{"t":10000,"v":1.0,"s":"H2"},{"t":12500,"v":1.4,"s":"H2"},{"t":15000,"v":1.9,"s":"H2"},{"t":17500,"v":2.45,"s":"H2"},{"t":20000,"v":2.95,"s":"H2"},{"t":22500,"v":3.5,"s":"H2"},{"t":25000,"v":4.2,"s":"H2"},{"t":27500,"v":5.05,"s":"H2"},{"t":30000,"v":5.8,"s":"H2"},{"t":32500,"v":6.6,"s":"H2"},{"t":35000,"v":7.4,"s":"H2"},{"t":37500,"v":8.2,"s":"H2"},{"t":40000,"v":9.0,"s":"H2"},{"t":42500,"v":9.8,"s":"H2"},{"t":45000,"v":10.6,"s":"H2"},{"t":47500,"v":11.3,"s":"H2"},{"t":50000,"v":12.1,"s":"H2"},{"t":52500,"v":12.8,"s":"H2"},{"t":55000,"v":13.4,"s":"H2"},{"t":57500,"v":14.1,"s":"H2"},{"t":60000,"v":15.0,"s":"H2"},{"t":62500,"v":15.9,"s":"H2"},{"t":65000,"v":16.7,"s":"H2"},{"t":67500,"v":17.5,"s":"H2"},{"t":70000,"v":18.4,"s":"H2"},{"t":72500,"v":19.2,"s":"H2"},{"t":75000,"v":20.0,"s":"H2"},{"t":77500,"v":20.8,"s":"H2"},{"t":80000,"v":21.6,"s":"H2"}
],
"labels": [
{"p":"tl","t":133800,"v":0.0672,"s":"H2O","label":"H₂O"},
{"p":"tl","t":138000,"v":0.0134,"s":"H2","label":"H₂"},
{"p":"tm","t":117600,"v":3.36,"s":"H2O","label":"H₂O"},
{"p":"tm","t":238600,"v":2.52,"s":"OH","label":"OH"},
{"p":"tm","t":259000,"v":1.32,"s":"O3","label":"O₃"},
{"p":"tr","t":24700,"v":11.43,"s":"H2O","label":"H₂O"},
{"p":"tr","t":50000,"v":4.6,"s":"H2","label":"H₂"},
{"p":"tr","t":83500,"v":1.14,"s":"OH","label":"OH"},
{"p":"bl","t":111600,"v":0.1563,"s":"H2O","label":"H₂O"},
{"p":"bl","t":252000,"v":0.051,"s":"H2","label":"H₂"},
{"p":"bl","t":141500,"v":0.0073,"s":"H","label":"H"},
{"p":"bm","t":114200,"v":6.05,"s":"H2O","label":"H₂O"},
{"p":"bm","t":212200,"v":3.19,"s":"OH","label":"OH"},
{"p":"bm","t":217300,"v":1.37,"s":"O3","label":"O₃"},
{"p":"br","t":53100,"v":16.3,"s":"H2","label":"H₂"},
{"p":"br","t":79000,"v":7.79,"s":"H2O","label":"H₂O"}
]
},
"title": {"text": "time (10⁵ yr)", "orient": "bottom", "fontSize": 62, "anchor": "middle", "offset": 43, "dx": 19},
"resolve": {"scale": {"color": "independent", "strokeDash": "independent"}},
"vconcat": [
{
"title": {"text": "surface abundance (ML)", "orient": "left", "fontSize": 63, "anchor": "middle", "offset": 13, "dx": -30},
"columns": 3,
"spacing": {"row": 72, "column": 71},
"bounds": "flush",
"resolve": {"scale": {"color": "independent", "strokeDash": "independent"}},
"concat": [
{
"width": 352, "height": 357,
"title": {"text": "A\u00a0\u00a0 = 0.5", "subtitle": "\u2800V", "anchor": "start", "frame": "group", "dx": 93, "fontSize": 52, "subtitleFontSize": 40, "subtitlePadding": -21, "offset": -10},
"resolve": {"axis": {"x": "independent", "y": "independent"}},
"layer": [
{"data": {"name": "tl"}, "mark": {"type": "line", "strokeWidth": 2, "clip": true},
 "encoding": {
  "x": {"field": "t", "type": "quantitative", "scale": {"domain": [0, 300000], "nice": false, "zero": false}, "axis": {"orient": "bottom", "values": [0, 100000, 200000, 300000], "tickSize": -20, "labelBaseline": "top", "labelPadding": {"condition": {"test": "datum.value === 0", "value": 27}, "value": 41}, "labelExpr": "datum.value === 0 ? '0' : format(datum.value/100000,'d') + '×10⁵'", "title": null}},
  "y": {"field": "v", "type": "quantitative", "scale": {"domain": [0, 0.2], "nice": false, "zero": false}, "axis": {"orient": "left", "values": [0, 0.05, 0.1, 0.15, 0.2], "tickSize": -20, "format": ".2f", "labelPadding": 31, "title": null}},
  "color": {"field": "s", "type": "nominal", "scale": {"domain": ["H", "H2", "H2O"], "range": ["#0000ff", "#008b00", "#ffa500"]}, "legend": null}
 }},
{"data": {"name": "labels"}, "transform": [{"filter": "datum.p === 'tl'"}], "mark": {"type": "text", "fontSize": 38, "baseline": "alphabetic", "align": "center"},
 "encoding": {
  "x": {"field": "t", "type": "quantitative", "scale": {"domain": [0, 300000], "nice": false, "zero": false}, "axis": {"orient": "bottom", "values": [0,20000,40000,60000,80000,100000,120000,140000,160000,180000,200000,220000,240000,260000,280000,300000], "tickSize": -10, "labels": false, "title": null}},
  "y": {"field": "v", "type": "quantitative", "scale": {"domain": [0, 0.2], "nice": false, "zero": false}, "axis": {"orient": "left", "values": [0,0.01,0.02,0.03,0.04,0.05,0.06,0.07,0.08,0.09,0.1,0.11,0.12,0.13,0.14,0.15,0.16,0.17,0.18,0.19,0.2], "tickSize": -10, "labels": false, "title": null}},
  "text": {"field": "label"},
  "color": {"field": "s", "type": "nominal", "scale": {"domain": ["H", "H2", "H2O"], "range": ["#0000ff", "#008b00", "#ffa500"]}, "legend": null}
 }},
{"data": {"name": "labels"}, "transform": [{"filter": "datum.p === 'tl'"}], "mark": {"type": "point", "opacity": 0},
 "encoding": {
  "x": {"field": "t", "type": "quantitative", "scale": {"domain": [0, 300000], "nice": false, "zero": false}, "axis": {"orient": "top", "values": [0, 100000, 200000, 300000], "tickSize": -20, "labels": false, "title": null}},
  "y": {"field": "v", "type": "quantitative", "scale": {"domain": [0, 0.2], "nice": false, "zero": false}, "axis": {"orient": "right", "values": [0, 0.05, 0.1, 0.15, 0.2], "tickSize": -20, "labels": false, "title": null}}
 }},
{"data": {"name": "labels"}, "transform": [{"filter": "datum.p === 'tl'"}], "mark": {"type": "point", "opacity": 0},
 "encoding": {
  "x": {"field": "t", "type": "quantitative", "scale": {"domain": [0, 300000], "nice": false, "zero": false}, "axis": {"orient": "top", "values": [0,20000,40000,60000,80000,100000,120000,140000,160000,180000,200000,220000,240000,260000,280000,300000], "tickSize": -10, "labels": false, "title": null}},
  "y": {"field": "v", "type": "quantitative", "scale": {"domain": [0, 0.2], "nice": false, "zero": false}, "axis": {"orient": "right", "values": [0,0.01,0.02,0.03,0.04,0.05,0.06,0.07,0.08,0.09,0.1,0.11,0.12,0.13,0.14,0.15,0.16,0.17,0.18,0.19,0.2], "tickSize": -10, "labels": false, "title": null}}
 }}
]
},
{
"width": 352, "height": 357,
"title": {"text": "A\u00a0\u00a0 = 3", "subtitle": "\u2800V", "anchor": "start", "frame": "group", "dx": 102, "fontSize": 52, "subtitleFontSize": 40, "subtitlePadding": -21, "offset": -10},
"resolve": {"axis": {"x": "independent", "y": "independent"}},
"layer": [
{"data": {"name": "tm"}, "mark": {"type": "line", "strokeWidth": 2, "clip": true},
 "encoding": {
  "x": {"field": "t", "type": "quantitative", "scale": {"domain": [0, 300000], "nice": false, "zero": false}, "axis": {"orient": "bottom", "values": [0, 100000, 200000, 300000], "tickSize": -20, "labelBaseline": "top", "labelPadding": {"condition": {"test": "datum.value === 0", "value": 27}, "value": 41}, "labelExpr": "datum.value === 0 ? '0' : format(datum.value/100000,'d') + '×10⁵'", "title": null}},
  "y": {"field": "v", "type": "quantitative", "scale": {"domain": [0, 10], "nice": false, "zero": false}, "axis": {"orient": "left", "values": [0, 2, 4, 6, 8, 10], "tickSize": -20, "format": "d", "labelPadding": 31, "title": null}},
  "color": {"field": "s", "type": "nominal", "scale": {"domain": ["HO2", "O", "O2", "H2", "O3", "OH", "H2O"], "range": ["#ffa500", "#00e5ee", "#0000ff", "#008b00", "#0000ff", "#008b00", "#ffa500"]}, "legend": null},
  "strokeDash": {"field": "s", "type": "nominal", "scale": {"domain": ["HO2", "O", "O2", "H2", "O3", "OH", "H2O"], "range": [[8,5],[1,0],[8,5],[1,0],[12,5,3,5],[10,6],[1,0]]}, "legend": null}
 }},
{"data": {"name": "labels"}, "transform": [{"filter": "datum.p === 'tm'"}], "mark": {"type": "text", "fontSize": 38, "baseline": "alphabetic", "align": "center"},
 "encoding": {
  "x": {"field": "t", "type": "quantitative", "scale": {"domain": [0, 300000], "nice": false, "zero": false}, "axis": {"orient": "bottom", "values": [0,20000,40000,60000,80000,100000,120000,140000,160000,180000,200000,220000,240000,260000,280000,300000], "tickSize": -10, "labels": false, "title": null}},
  "y": {"field": "v", "type": "quantitative", "scale": {"domain": [0, 10], "nice": false, "zero": false}, "axis": {"orient": "left", "values": [0,0.4,0.8,1.2,1.6,2,2.4,2.8,3.2,3.6,4,4.4,4.8,5.2,5.6,6,6.4,6.8,7.2,7.6,8,8.4,8.8,9.2,9.6,10], "tickSize": -10, "labels": false, "title": null}},
  "text": {"field": "label"},
  "color": {"field": "s", "type": "nominal", "scale": {"domain": ["HO2", "O", "O2", "H2", "O3", "OH", "H2O"], "range": ["#ffa500", "#00e5ee", "#0000ff", "#008b00", "#0000ff", "#008b00", "#ffa500"]}, "legend": null}
 }},
{"data": {"name": "labels"}, "transform": [{"filter": "datum.p === 'tm'"}], "mark": {"type": "point", "opacity": 0},
 "encoding": {
  "x": {"field": "t", "type": "quantitative", "scale": {"domain": [0, 300000], "nice": false, "zero": false}, "axis": {"orient": "top", "values": [0, 100000, 200000, 300000], "tickSize": -20, "labels": false, "title": null}},
  "y": {"field": "v", "type": "quantitative", "scale": {"domain": [0, 10], "nice": false, "zero": false}, "axis": {"orient": "right", "values": [0, 2, 4, 6, 8, 10], "tickSize": -20, "labels": false, "title": null}}
 }},
{"data": {"name": "labels"}, "transform": [{"filter": "datum.p === 'tm'"}], "mark": {"type": "point", "opacity": 0},
 "encoding": {
  "x": {"field": "t", "type": "quantitative", "scale": {"domain": [0, 300000], "nice": false, "zero": false}, "axis": {"orient": "top", "values": [0,20000,40000,60000,80000,100000,120000,140000,160000,180000,200000,220000,240000,260000,280000,300000], "tickSize": -10, "labels": false, "title": null}},
  "y": {"field": "v", "type": "quantitative", "scale": {"domain": [0, 10], "nice": false, "zero": false}, "axis": {"orient": "right", "values": [0,0.4,0.8,1.2,1.6,2,2.4,2.8,3.2,3.6,4,4.4,4.8,5.2,5.6,6,6.4,6.8,7.2,7.6,8,8.4,8.8,9.2,9.6,10], "tickSize": -10, "labels": false, "title": null}}
 }}
]
},
{
"width": 352, "height": 357,
"title": {"text": "A\u00a0\u00a0 = 10", "subtitle": "\u2800V", "anchor": "start", "frame": "group", "dx": 104, "fontSize": 52, "subtitleFontSize": 40, "subtitlePadding": -21, "offset": -10},
"resolve": {"axis": {"x": "independent", "y": "independent"}},
"layer": [
{"data": {"name": "tr"}, "mark": {"type": "line", "strokeWidth": 2, "clip": true},
 "encoding": {
  "x": {"field": "t", "type": "quantitative", "scale": {"domain": [0, 100000], "nice": false, "zero": false}, "axis": {"orient": "bottom", "values": [0, 50000, 100000], "tickSize": -20, "labelBaseline": "top", "labelPadding": {"condition": {"test": "datum.value === 0", "value": 27}, "value": 41}, "labelExpr": "datum.value === 0 ? '0' : datum.value === 50000 ? '5×10⁴' : '1×10⁵'", "title": null}},
  "y": {"field": "v", "type": "quantitative", "scale": {"domain": [0, 20], "nice": false, "zero": false}, "axis": {"orient": "left", "values": [0, 5, 10, 15, 20], "tickSize": -20, "format": "d", "labelPadding": 31, "title": null}},
  "color": {"field": "s", "type": "nominal", "scale": {"domain": ["HO2", "O2", "OH", "H2", "H2O"], "range": ["#ffa500", "#0000ff", "#008b00", "#008b00", "#ffa500"]}, "legend": null},
  "strokeDash": {"field": "s", "type": "nominal", "scale": {"domain": ["HO2", "O2", "OH", "H2", "H2O"], "range": [[8,5],[1,0],[10,6],[1,0],[1,0]]}, "legend": null}
 }},
{"data": {"name": "labels"}, "transform": [{"filter": "datum.p === 'tr'"}], "mark": {"type": "text", "fontSize": 38, "baseline": "alphabetic", "align": "center"},
 "encoding": {
  "x": {"field": "t", "type": "quantitative", "scale": {"domain": [0, 100000], "nice": false, "zero": false}, "axis": {"orient": "bottom", "values": [0,10000,20000,30000,40000,50000,60000,70000,80000,90000,100000], "tickSize": -10, "labels": false, "title": null}},
  "y": {"field": "v", "type": "quantitative", "scale": {"domain": [0, 20], "nice": false, "zero": false}, "axis": {"orient": "left", "values": [0,1,2,3,4,5,6,7,8,9,10,11,12,13,14,15,16,17,18,19,20], "tickSize": -10, "labels": false, "title": null}},
  "text": {"field": "label"},
  "color": {"field": "s", "type": "nominal", "scale": {"domain": ["HO2", "O2", "OH", "H2", "H2O"], "range": ["#ffa500", "#0000ff", "#008b00", "#008b00", "#ffa500"]}, "legend": null}
 }},
{"data": {"name": "labels"}, "transform": [{"filter": "datum.p === 'tr'"}], "mark": {"type": "point", "opacity": 0},
 "encoding": {
  "x": {"field": "t", "type": "quantitative", "scale": {"domain": [0, 100000], "nice": false, "zero": false}, "axis": {"orient": "top", "values": [0, 50000, 100000], "tickSize": -20, "labels": false, "title": null}},
  "y": {"field": "v", "type": "quantitative", "scale": {"domain": [0, 20], "nice": false, "zero": false}, "axis": {"orient": "right", "values": [0, 5, 10, 15, 20], "tickSize": -20, "labels": false, "title": "fast diff", "titleAngle": 0, "titleAlign": "left", "titleBaseline": "middle", "titleX": 20, "titleY": 178, "titleFontSize": 52}}
 }},
{"data": {"name": "labels"}, "transform": [{"filter": "datum.p === 'tr'"}], "mark": {"type": "point", "opacity": 0},
 "encoding": {
  "x": {"field": "t", "type": "quantitative", "scale": {"domain": [0, 100000], "nice": false, "zero": false}, "axis": {"orient": "top", "values": [0,10000,20000,30000,40000,50000,60000,70000,80000,90000,100000], "tickSize": -10, "labels": false, "title": null}},
  "y": {"field": "v", "type": "quantitative", "scale": {"domain": [0, 20], "nice": false, "zero": false}, "axis": {"orient": "right", "values": [0,1,2,3,4,5,6,7,8,9,10,11,12,13,14,15,16,17,18,19,20], "tickSize": -10, "labels": false, "title": null}}
 }}
]
},
{
"width": 352, "height": 357,
"resolve": {"axis": {"x": "independent", "y": "independent"}},
"layer": [
{"data": {"name": "bl"}, "mark": {"type": "line", "strokeWidth": 2, "clip": true},
 "encoding": {
  "x": {"field": "t", "type": "quantitative", "scale": {"domain": [0, 300000], "nice": false, "zero": false}, "axis": {"orient": "bottom", "values": [0, 100000, 200000, 300000], "tickSize": -20, "labelBaseline": "top", "labelPadding": {"condition": {"test": "datum.value === 0", "value": 27}, "value": 41}, "labelExpr": "datum.value === 0 ? '0' : format(datum.value/100000,'d') + '×10⁵'", "title": null}},
  "y": {"field": "v", "type": "quantitative", "scale": {"domain": [0, 0.2], "nice": false, "zero": false}, "axis": {"orient": "left", "values": [0, 0.05, 0.1, 0.15, 0.2], "tickSize": -20, "format": ".2f", "labelPadding": 31, "title": null}},
  "color": {"field": "s", "type": "nominal", "scale": {"domain": ["O2", "H", "H2", "H2O"], "range": ["#0000ff", "#0000ff", "#008b00", "#ffa500"]}, "legend": null},
  "strokeDash": {"field": "s", "type": "nominal", "scale": {"domain": ["O2", "H", "H2", "H2O"], "range": [[8,5],[1,0],[1,0],[1,0]]}, "legend": null}
 }},
{"data": {"name": "labels"}, "transform": [{"filter": "datum.p === 'bl'"}], "mark": {"type": "text", "fontSize": 38, "baseline": "alphabetic", "align": "center"},
 "encoding": {
  "x": {"field": "t", "type": "quantitative", "scale": {"domain": [0, 300000], "nice": false, "zero": false}, "axis": {"orient": "bottom", "values": [0,20000,40000,60000,80000,100000,120000,140000,160000,180000,200000,220000,240000,260000,280000,300000], "tickSize": -10, "labels": false, "title": null}},
  "y": {"field": "v", "type": "quantitative", "scale": {"domain": [0, 0.2], "nice": false, "zero": false}, "axis": {"orient": "left", "values": [0,0.01,0.02,0.03,0.04,0.05,0.06,0.07,0.08,0.09,0.1,0.11,0.12,0.13,0.14,0.15,0.16,0.17,0.18,0.19,0.2], "tickSize": -10, "labels": false, "title": null}},
  "text": {"field": "label"},
  "color": {"field": "s", "type": "nominal", "scale": {"domain": ["O2", "H", "H2", "H2O"], "range": ["#0000ff", "#0000ff", "#008b00", "#ffa500"]}, "legend": null}
 }},
{"data": {"name": "labels"}, "transform": [{"filter": "datum.p === 'bl'"}], "mark": {"type": "point", "opacity": 0},
 "encoding": {
  "x": {"field": "t", "type": "quantitative", "scale": {"domain": [0, 300000], "nice": false, "zero": false}, "axis": {"orient": "top", "values": [0, 100000, 200000, 300000], "tickSize": -20, "labels": false, "title": null}},
  "y": {"field": "v", "type": "quantitative", "scale": {"domain": [0, 0.2], "nice": false, "zero": false}, "axis": {"orient": "right", "values": [0, 0.05, 0.1, 0.15, 0.2], "tickSize": -20, "labels": false, "title": null}}
 }},
{"data": {"name": "labels"}, "transform": [{"filter": "datum.p === 'bl'"}], "mark": {"type": "point", "opacity": 0},
 "encoding": {
  "x": {"field": "t", "type": "quantitative", "scale": {"domain": [0, 300000], "nice": false, "zero": false}, "axis": {"orient": "top", "values": [0,20000,40000,60000,80000,100000,120000,140000,160000,180000,200000,220000,240000,260000,280000,300000], "tickSize": -10, "labels": false, "title": null}},
  "y": {"field": "v", "type": "quantitative", "scale": {"domain": [0, 0.2], "nice": false, "zero": false}, "axis": {"orient": "right", "values": [0,0.01,0.02,0.03,0.04,0.05,0.06,0.07,0.08,0.09,0.1,0.11,0.12,0.13,0.14,0.15,0.16,0.17,0.18,0.19,0.2], "tickSize": -10, "labels": false, "title": null}}
 }}
]
},
{
"width": 352, "height": 357,
"resolve": {"axis": {"x": "independent", "y": "independent"}},
"layer": [
{"data": {"name": "bm"}, "mark": {"type": "line", "strokeWidth": 2, "clip": true},
 "encoding": {
  "x": {"field": "t", "type": "quantitative", "scale": {"domain": [0, 300000], "nice": false, "zero": false}, "axis": {"orient": "bottom", "values": [0, 100000, 200000, 300000], "tickSize": -20, "labelBaseline": "top", "labelPadding": {"condition": {"test": "datum.value === 0", "value": 27}, "value": 41}, "labelExpr": "datum.value === 0 ? '0' : format(datum.value/100000,'d') + '×10⁵'", "title": null}},
  "y": {"field": "v", "type": "quantitative", "scale": {"domain": [0, 10], "nice": false, "zero": false}, "axis": {"orient": "left", "values": [0, 2, 4, 6, 8, 10], "tickSize": -20, "format": "d", "labelPadding": 31, "title": null}},
  "color": {"field": "s", "type": "nominal", "scale": {"domain": ["HO2", "O", "O2", "H2", "O3", "OH", "H2O"], "range": ["#ffa500", "#00e5ee", "#0000ff", "#008b00", "#0000ff", "#008b00", "#ffa500"]}, "legend": null},
  "strokeDash": {"field": "s", "type": "nominal", "scale": {"domain": ["HO2", "O", "O2", "H2", "O3", "OH", "H2O"], "range": [[8,5],[1,0],[8,5],[1,0],[1,0],[10,6],[1,0]]}, "legend": null}
 }},
{"data": {"name": "labels"}, "transform": [{"filter": "datum.p === 'bm'"}], "mark": {"type": "text", "fontSize": 38, "baseline": "alphabetic", "align": "center"},
 "encoding": {
  "x": {"field": "t", "type": "quantitative", "scale": {"domain": [0, 300000], "nice": false, "zero": false}, "axis": {"orient": "bottom", "values": [0,20000,40000,60000,80000,100000,120000,140000,160000,180000,200000,220000,240000,260000,280000,300000], "tickSize": -10, "labels": false, "title": null}},
  "y": {"field": "v", "type": "quantitative", "scale": {"domain": [0, 10], "nice": false, "zero": false}, "axis": {"orient": "left", "values": [0,0.4,0.8,1.2,1.6,2,2.4,2.8,3.2,3.6,4,4.4,4.8,5.2,5.6,6,6.4,6.8,7.2,7.6,8,8.4,8.8,9.2,9.6,10], "tickSize": -10, "labels": false, "title": null}},
  "text": {"field": "label"},
  "color": {"field": "s", "type": "nominal", "scale": {"domain": ["HO2", "O", "O2", "H2", "O3", "OH", "H2O"], "range": ["#ffa500", "#00e5ee", "#0000ff", "#008b00", "#0000ff", "#008b00", "#ffa500"]}, "legend": null}
 }},
{"data": {"name": "labels"}, "transform": [{"filter": "datum.p === 'bm'"}], "mark": {"type": "point", "opacity": 0},
 "encoding": {
  "x": {"field": "t", "type": "quantitative", "scale": {"domain": [0, 300000], "nice": false, "zero": false}, "axis": {"orient": "top", "values": [0, 100000, 200000, 300000], "tickSize": -20, "labels": false, "title": null}},
  "y": {"field": "v", "type": "quantitative", "scale": {"domain": [0, 10], "nice": false, "zero": false}, "axis": {"orient": "right", "values": [0, 2, 4, 6, 8, 10], "tickSize": -20, "labels": false, "title": null}}
 }},
{"data": {"name": "labels"}, "transform": [{"filter": "datum.p === 'bm'"}], "mark": {"type": "point", "opacity": 0},
 "encoding": {
  "x": {"field": "t", "type": "quantitative", "scale": {"domain": [0, 300000], "nice": false, "zero": false}, "axis": {"orient": "top", "values": [0,20000,40000,60000,80000,100000,120000,140000,160000,180000,200000,220000,240000,260000,280000,300000], "tickSize": -10, "labels": false, "title": null}},
  "y": {"field": "v", "type": "quantitative", "scale": {"domain": [0, 10], "nice": false, "zero": false}, "axis": {"orient": "right", "values": [0,0.4,0.8,1.2,1.6,2,2.4,2.8,3.2,3.6,4,4.4,4.8,5.2,5.6,6,6.4,6.8,7.2,7.6,8,8.4,8.8,9.2,9.6,10], "tickSize": -10, "labels": false, "title": null}}
 }}
]
},
{
"width": 352, "height": 357,
"resolve": {"axis": {"x": "independent", "y": "independent"}},
"layer": [
{"data": {"name": "br"}, "mark": {"type": "line", "strokeWidth": 2, "clip": true},
 "encoding": {
  "x": {"field": "t", "type": "quantitative", "scale": {"domain": [0, 100000], "nice": false, "zero": false}, "axis": {"orient": "bottom", "values": [0, 50000, 100000], "tickSize": -20, "labelBaseline": "top", "labelPadding": {"condition": {"test": "datum.value === 0", "value": 27}, "value": 41}, "labelExpr": "datum.value === 0 ? '0' : datum.value === 50000 ? '5×10⁴' : '1×10⁵'", "title": null}},
  "y": {"field": "v", "type": "quantitative", "scale": {"domain": [0, 20], "nice": false, "zero": false}, "axis": {"orient": "left", "values": [0, 5, 10, 15, 20], "tickSize": -20, "format": "d", "labelPadding": 31, "title": null}},
  "color": {"field": "s", "type": "nominal", "scale": {"domain": ["HO2", "O", "O2", "OH", "H2O", "H2"], "range": ["#ffa500", "#00e5ee", "#0000ff", "#008b00", "#ffa500", "#008b00"]}, "legend": null},
  "strokeDash": {"field": "s", "type": "nominal", "scale": {"domain": ["HO2", "O", "O2", "OH", "H2O", "H2"], "range": [[8,5],[1,0],[1,0],[10,6],[1,0],[1,0]]}, "legend": null}
 }},
{"data": {"name": "labels"}, "transform": [{"filter": "datum.p === 'br'"}], "mark": {"type": "text", "fontSize": 38, "baseline": "alphabetic", "align": "center"},
 "encoding": {
  "x": {"field": "t", "type": "quantitative", "scale": {"domain": [0, 100000], "nice": false, "zero": false}, "axis": {"orient": "bottom", "values": [0,10000,20000,30000,40000,50000,60000,70000,80000,90000,100000], "tickSize": -10, "labels": false, "title": null}},
  "y": {"field": "v", "type": "quantitative", "scale": {"domain": [0, 20], "nice": false, "zero": false}, "axis": {"orient": "left", "values": [0,1,2,3,4,5,6,7,8,9,10,11,12,13,14,15,16,17,18,19,20], "tickSize": -10, "labels": false, "title": null}},
  "text": {"field": "label"},
  "color": {"field": "s", "type": "nominal", "scale": {"domain": ["HO2", "O", "O2", "OH", "H2O", "H2"], "range": ["#ffa500", "#00e5ee", "#0000ff", "#008b00", "#ffa500", "#008b00"]}, "legend": null}
 }},
{"data": {"name": "labels"}, "transform": [{"filter": "datum.p === 'br'"}], "mark": {"type": "point", "opacity": 0},
 "encoding": {
  "x": {"field": "t", "type": "quantitative", "scale": {"domain": [0, 100000], "nice": false, "zero": false}, "axis": {"orient": "top", "values": [0, 50000, 100000], "tickSize": -20, "labels": false, "title": null}},
  "y": {"field": "v", "type": "quantitative", "scale": {"domain": [0, 20], "nice": false, "zero": false}, "axis": {"orient": "right", "values": [0, 5, 10, 15, 20], "tickSize": -20, "labels": false, "title": "slow diff", "titleAngle": 0, "titleAlign": "left", "titleBaseline": "middle", "titleX": 20, "titleY": 178, "titleFontSize": 52}}
 }},
{"data": {"name": "labels"}, "transform": [{"filter": "datum.p === 'br'"}], "mark": {"type": "point", "opacity": 0},
 "encoding": {
  "x": {"field": "t", "type": "quantitative", "scale": {"domain": [0, 100000], "nice": false, "zero": false}, "axis": {"orient": "top", "values": [0,10000,20000,30000,40000,50000,60000,70000,80000,90000,100000], "tickSize": -10, "labels": false, "title": null}},
  "y": {"field": "v", "type": "quantitative", "scale": {"domain": [0, 20], "nice": false, "zero": false}, "axis": {"orient": "right", "values": [0,1,2,3,4,5,6,7,8,9,10,11,12,13,14,15,16,17,18,19,20], "tickSize": -10, "labels": false, "title": null}}
 }}
]
}
]
}
]
}
